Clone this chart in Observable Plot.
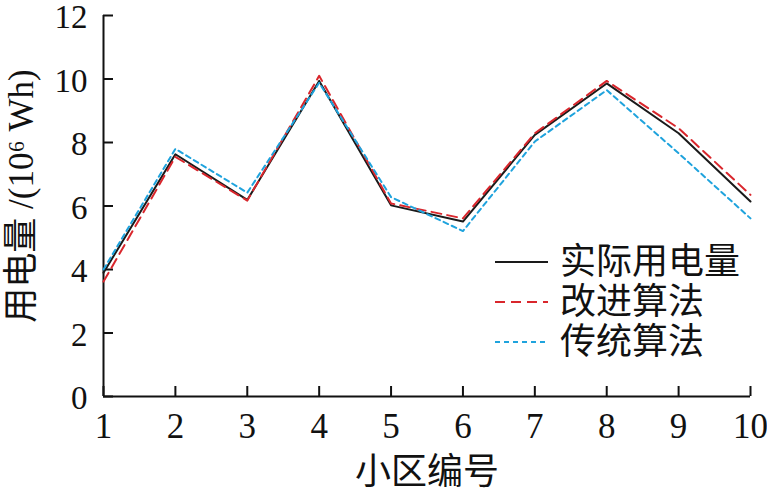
<!DOCTYPE html>
<html>
<head>
<meta charset="utf-8">
<script src="https://cdn.jsdelivr.net/npm/d3@7"></script>
<script src="https://cdn.jsdelivr.net/npm/@observablehq/plot@0.6"></script>
<style>
  html, body { margin: 0; padding: 0; background: #fff; }
  #wrap { position: relative; width: 767px; height: 492px; font-family: "Liberation Serif", "Noto Sans CJK SC", serif; }
  #legend { position: absolute; left: 495px; top: 242px; }
  .row { display: flex; align-items: center; height: 40px; }
  .row span { font-size: 36px; margin-left: 12px; color: #111; line-height: 40px; }
</style>
</head>
<body>
<div id="wrap"></div>
<script>
const zones = [1, 2, 3, 4, 5, 6, 7, 8, 9, 10];
const actual = [3.9, 7.63, 6.19, 9.94, 6.02, 5.51, 8.24, 9.86, 8.29, 6.14];
const improved = [3.62, 7.55, 6.17, 10.1, 6.08, 5.61, 8.29, 9.94, 8.45, 6.35];
const traditional = [4.0, 7.8, 6.42, 9.88, 6.28, 5.21, 8.03, 9.65, 7.66, 5.61];
const seriesNames = ["实际用电量", "改进算法", "传统算法"];
const xTicks = [1, 2, 3, 4, 5, 6, 7, 8, 9, 10];
const yTicks = [0, 2, 4, 6, 8, 10, 12];
const xTitle = "小区编号";
const yTitle = "用电量 /(10⁶ Wh)";

const colors = ["#1a1a1a", "#d9262c", "#1fa3dd"];
const dashes = [null, "10,6", "5,4"];
const seriesValues = [actual, improved, traditional];

const rows = seriesNames.map((name, s) => zones.map((z, i) => ({zone: z, value: seriesValues[s][i], series: name})));

const W = 767, H = 492, mL = 103, mR = 17, mT = 15, mB = 96;
const pw = W - mL - mR, ph = H - mT - mB;

const chart = Plot.plot({
  width: W, height: H,
  marginLeft: mL, marginRight: mR, marginTop: mT, marginBottom: mB,
  x: {domain: [1, 10]},
  y: {domain: [0, 12]},
  style: {fontFamily: '"Liberation Serif", "Noto Sans CJK SC", serif', fontSize: "35px", color: "#111", background: "#fff"},
  marks: [
    Plot.gridX(xTicks, {stroke: "#111", strokeOpacity: 1, strokeWidth: 2, insetTop: ph - 10}),
    Plot.gridY(yTicks, {stroke: "#111", strokeOpacity: 1, strokeWidth: 2, insetRight: pw - 10}),
    Plot.ruleX([1], {stroke: "#111", strokeWidth: 2}),
    Plot.ruleY([0], {stroke: "#111", strokeWidth: 2}),
    Plot.axisX(xTicks, {tickSize: 0, tickPadding: 17, fontSize: 35, label: null}),
    Plot.axisY(yTicks, {tickSize: 0, tickPadding: 16, fontSize: 33, dy: 2, label: null}),
    ...rows.map((r, s) => Plot.line(r, {x: "zone", y: "value", stroke: colors[s], strokeWidth: 2, strokeDasharray: dashes[s] ?? undefined})),
    Plot.text([xTitle], {text: d => d, frameAnchor: "bottom", textAnchor: "middle", dy: 76, fontSize: 36, lineAnchor: "middle"}),
    Plot.text([yTitle], {text: d => d, frameAnchor: "left", textAnchor: "middle", rotate: -90, dx: -82, dy: -10, fontSize: 35, lineAnchor: "middle"})
  ]
});

const wrap = document.getElementById("wrap");
wrap.appendChild(chart);

const legend = document.createElement("div");
legend.id = "legend";
seriesNames.forEach((name, s) => {
  const row = document.createElement("div");
  row.className = "row";
  const dash = dashes[s] ? ` stroke-dasharray="${dashes[s]}"` : "";
  row.innerHTML = `<svg width="53" height="40"><line x1="0" x2="53" y1="20" y2="20" stroke="${colors[s]}" stroke-width="2"${dash}/></svg><span>${name}</span>`;
  legend.appendChild(row);
});
wrap.appendChild(legend);
</script>
</body>
</html>
